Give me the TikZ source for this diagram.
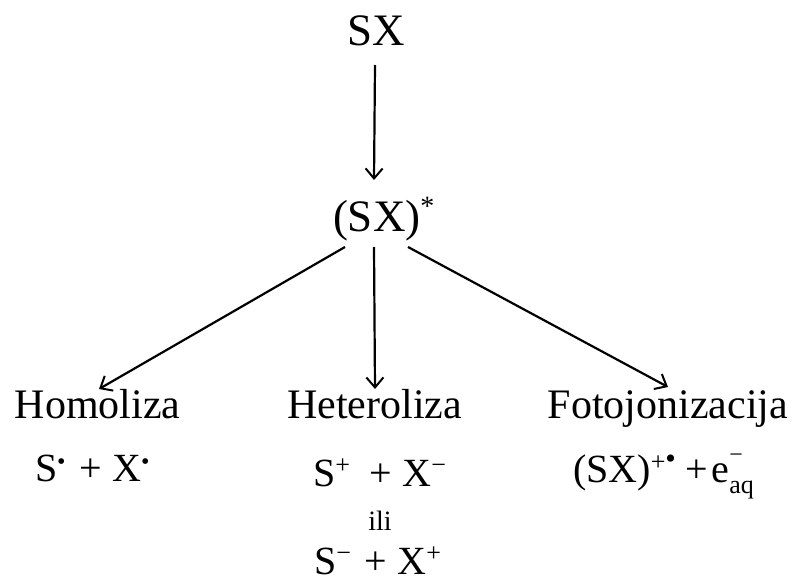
\documentclass[tikz,border=0pt]{standalone}
\usepackage{fontspec}
\setmainfont{Liberation Serif}
\usetikzlibrary{arrows.meta,calc}
\newcommand\upx[3]{\raisebox{#1}{\fontsize{#2}{#2}\selectfont #3}}
\tikzset{
  txt/.style={inner sep=0pt, outer sep=0pt},
  head/.style={txt, anchor=base, font=\fontsize{42}{50}\selectfont},
  react/.style={txt, anchor=base west, font=\fontsize{40}{46}\selectfont},
  arr/.style={line width=2.2pt, -{Straight Barb[length=10pt,width=17pt,line width=2pt]}}
}
\begin{document}
\begin{tikzpicture}[x=1pt,y=-1pt]
\useasboundingbox (0,0) rectangle (792,583);
\node[txt, anchor=base, font=\fontsize{45}{50}\selectfont] (sx) at (376,46) {SX};
\node[txt, anchor=base west, font=\fontsize{45}{52}\selectfont] (sxs) at (333,231) {(SX)\upx{16pt}{28}{*}};
\node[head] (homo) at (97.5,418) {Homoliza};
\node[head] (hetero) at (374.5,418) {Heteroliza};
\node[head] (foto) at (668,418) {Fotojonizacija};
\node[react] (r1) at (35,481) {S\upx{12pt}{24}{•}\hspace{14pt}+\hspace{10pt}X\upx{12pt}{24}{•}};
\node[react] (r2) at (313,486) {S\upx{13pt}{26}{+}\hspace{20pt}+\hspace{10pt}X\upx{13pt}{26}{−}};
\node[txt, anchor=base, font=\fontsize{28}{32}\selectfont] (ili) at (380,530) {ili};
\node[react] (r3) at (314,574) {S\upx{13pt}{26}{−}\hspace{14pt}+\hspace{10pt}X\upx{13pt}{26}{+}};
\node[react] (r4) at (573,482) {(SX)\upx{12pt}{26}{+}\upx{14pt}{30}{•}\hspace{10pt}+\hspace{3pt}e\rlap{\upx{20pt}{24}{−}}\upx{-11pt}{26}{aq}};
\draw[arr] ($(sx.base)+(-1,19)$) -- ($(sxs.base west)+(41,-51)$);
\draw[arr] ($(sxs.base west)+(12,16)$) -- ($(homo.base)+(1.5,-29)$);
\draw[arr] ($(sxs.base west)+(41,16)$) -- ($(hetero.base)+(0.5,-29)$);
\draw[arr] ($(sxs.base west)+(75,16)$) -- ($(foto.base)+(0,-31)$);
\end{tikzpicture}
\end{document}
